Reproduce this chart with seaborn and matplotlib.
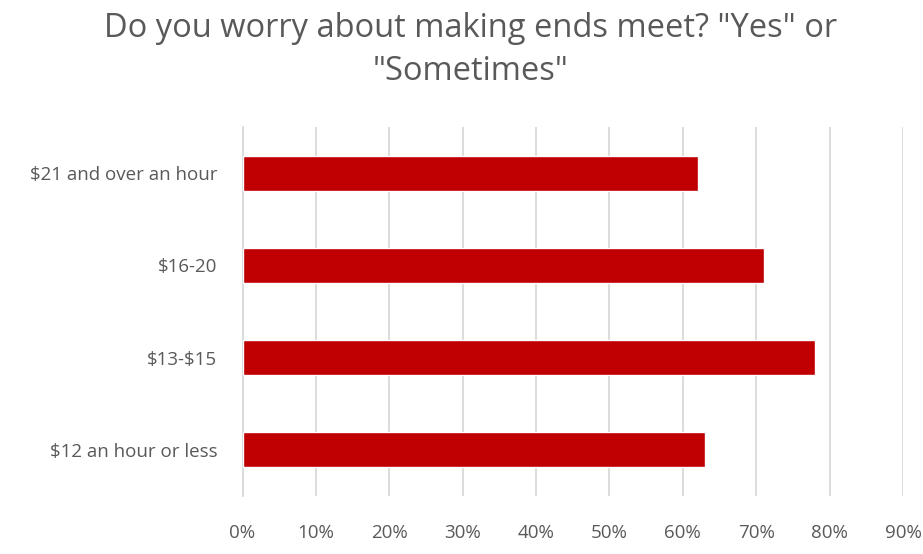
import matplotlib
matplotlib.use("Agg")
import matplotlib.pyplot as plt
import seaborn as sns
import pandas as pd
from matplotlib.ticker import FuncFormatter, MultipleLocator

categories = ["$21 and over an hour", "$16-20", "$13-$15", "$12 an hour or less"]
values = [0.62, 0.71, 0.78, 0.63]
title = 'Do you worry about making ends meet? "Yes" or\n"Sometimes"'

sns.set_theme(style="white")
plt.rcParams["font.family"] = ["Open Sans", "DejaVu Sans"]
plt.rcParams["text.parse_math"] = False

df = pd.DataFrame({"category": categories, "value": values})

fig = plt.figure(figsize=(9.23, 5.54), dpi=100)
ax = fig.add_axes([242.5 / 923, 1 - 496 / 554, (903 - 242.5) / 923, (496 - 127) / 554])

sns.barplot(data=df, x="value", y="category", orient="h", color="#C00000",
            width=0.38, saturation=1, ax=ax, zorder=3)

ax.set_xlim(0, 0.9)
ax.xaxis.set_major_locator(MultipleLocator(0.1))
ax.xaxis.set_major_formatter(FuncFormatter(lambda v, p: f"{v*100:.0f}%"))
ax.grid(axis="x", color="#d9d9d9", linewidth=1.3, zorder=0)
ax.set_axisbelow(True)
for s in ["top", "right", "bottom"]:
    ax.spines[s].set_visible(False)
ax.spines["left"].set_color("#d9d9d9")
ax.spines["left"].set_linewidth(1.3)
ax.set_xlabel("")
ax.set_ylabel("")
ax.tick_params(axis="both", length=0, colors="#595959", labelsize=13.5)
ax.tick_params(axis="x", pad=20)
ax.tick_params(axis="y", pad=18)
for t in ax.get_yticklabels():
    t.set_parse_math(False)

fig.text(471 / 923, 1 - 50 / 554, title, ha="center", va="center",
         fontsize=23.5, color="#595959", linespacing=1.38)

fig.savefig("out.png", dpi=100, facecolor="white")
